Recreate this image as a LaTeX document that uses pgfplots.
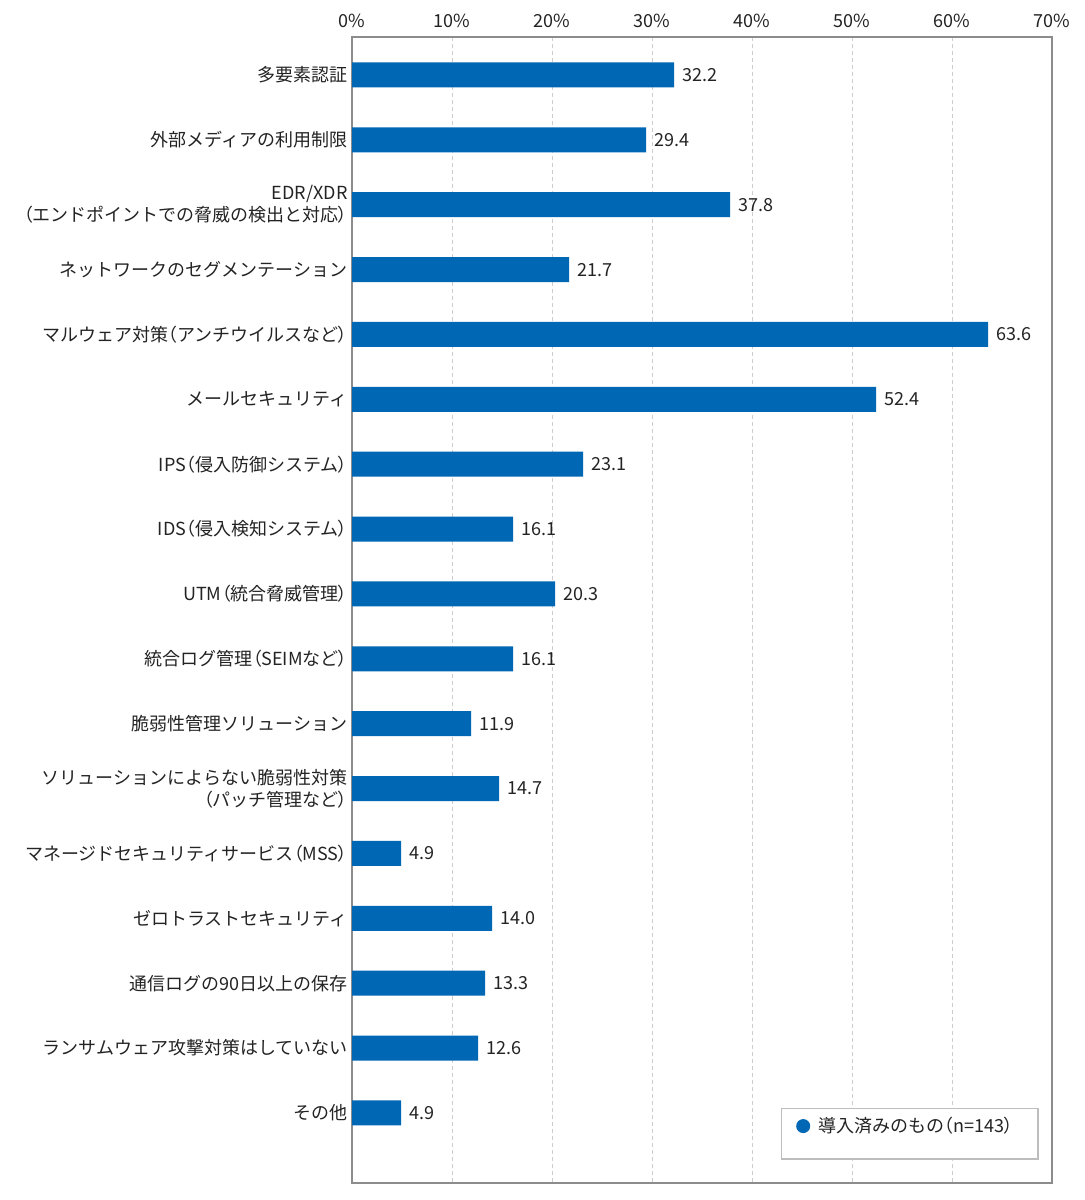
\documentclass[border=0pt]{standalone}
\usepackage{fontspec}
\setmainfont{Noto Sans CJK JP}
\newcommand{\lp}{{\addfontfeature{RawFeature=+palt}（}}
\newcommand{\rp}{{\addfontfeature{RawFeature=+palt}）}}
\usepackage{pgfplots}
\pgfplotsset{compat=1.18}
\definecolor{barblue}{RGB}{0,103,180}
\definecolor{axgray}{RGB}{140,140,140}
\definecolor{gridgray}{RGB}{205,205,205}
\definecolor{txt}{RGB}{35,35,35}
\begin{document}
\begin{tikzpicture}
\path[use as bounding box] (0,0) rectangle (542.5pt,600pt);
\begin{axis}[
  at={(176pt,8.5pt)}, anchor=south west,
  scale only axis, width=350pt, height=573pt,
  xbar, bar width=12.5pt,
  xmin=0, xmax=70,
  ymin=-0.585, ymax=17.08, y dir=reverse,
  xticklabel pos=upper,
  axis line style={axgray, line width=0.6pt},
  xtick={0,10,...,70},
  xticklabel={\pgfmathprintnumber{\tick}\%},
  /pgf/number format/assume math mode=true,
  xmajorgrids, grid style={gridgray, dash pattern=on 2pt off 1.5pt, line width=0.5pt},
  major tick length=0pt,
  ytick={0,...,16},
  yticklabels={
    多要素認証,
    外部メディアの利用制限,
    {EDR/XDR\\\lp エンドポイントでの脅威の検出と対応\rp},
    ネットワークのセグメンテーション,
    {マルウェア対策\lp アンチウイルスなど\rp},
    メールセキュリティ,
    {IPS\lp 侵入防御システム\rp},
    {IDS\lp 侵入検知システム\rp},
    {UTM\lp 統合脅威管理\rp},
    {統合ログ管理\lp SEIMなど\rp},
    脆弱性管理ソリューション,
    {ソリューションによらない脆弱性対策\\\lp パッチ管理など\rp},
    {マネージドセキュリティサービス\lp MSS\rp},
    ゼロトラストセキュリティ,
    通信ログの90日以上の保存,
    ランサムウェア攻撃対策はしていない,
    その他},
  yticklabel style={align=right, font=\fontsize{9pt}{11pt}\selectfont, text=txt, inner xsep=2pt},
  xticklabel style={font=\fontsize{9pt}{11pt}\selectfont, text=txt, yshift=1pt},
  point meta=x,
  nodes near coords={\pgfmathprintnumber[fixed,fixed zerofill,precision=1]{\pgfplotspointmeta}},
  nodes near coords style={anchor=west, xshift=0.5pt, font=\fontsize{9pt}{11pt}\selectfont, text=txt},
  legend style={draw=none, fill=none, at={(0.634,0.0497)}, anchor=west,
    font=\fontsize{9pt}{11pt}\selectfont, text=txt, inner sep=0pt,
    legend cell align=left, /tikz/every even column/.append style={column sep=3pt}},
  legend image code/.code={\fill[barblue] (3.5pt,0pt) circle (3.5pt);},
  clip=false,
]
\addplot[fill=barblue, draw=none] coordinates {
  (32.2,0) (29.4,1) (37.8,2) (21.7,3) (63.6,4) (52.4,5) (23.1,6) (16.1,7)
  (20.3,8) (16.1,9) (11.9,10) (14.7,11) (4.9,12) (14.0,13) (13.3,14) (12.6,15) (4.9,16)};
\addlegendentry{\hspace{2pt}導入済みのもの\lp n=143\rp}
\draw[gridgray!80!gray, line width=0.6pt, fill=white] (rel axis cs:0.614,0.021) rectangle (rel axis cs:0.98,0.065);
\end{axis}
\end{tikzpicture}
\end{document}
